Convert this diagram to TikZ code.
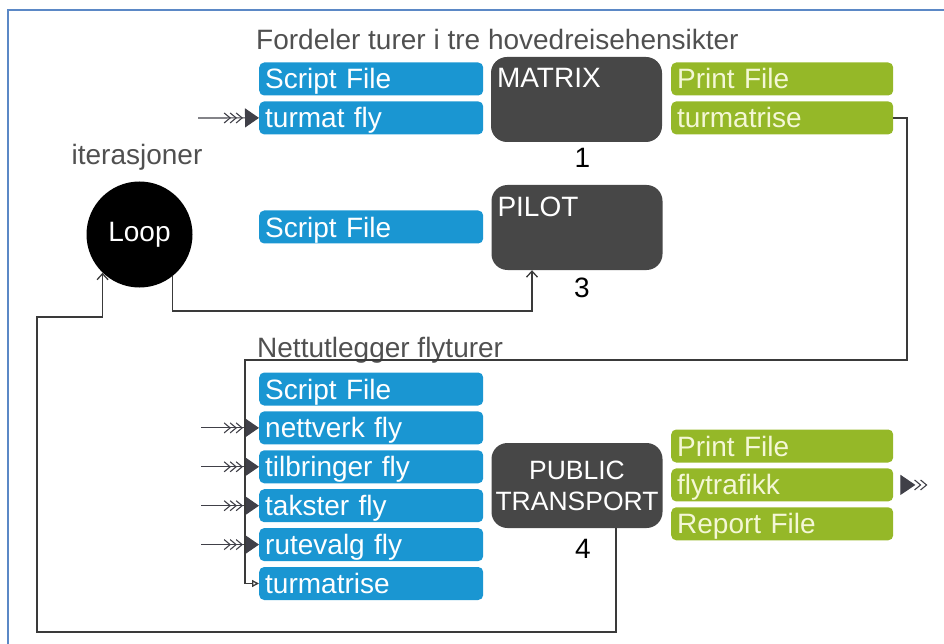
\documentclass[tikz,border=0pt]{standalone}
\usepackage{fontspec}
\setmainfont{Liberation Sans}
\usetikzlibrary{
    arrows.meta,
    decorations.markings,
    positioning
}
\definecolor{fileblue}{HTML}{1A96D2}
\definecolor{filegreen}{HTML}{95B828}
\definecolor{greentext}{HTML}{F4F7D6}
\definecolor{procgray}{HTML}{474747}
\definecolor{portgray}{HTML}{404048}
\definecolor{linegray}{HTML}{3A3A3A}
\definecolor{framecol}{HTML}{5B88C6}
\definecolor{capgray}{HTML}{505050}

\tikzset{
    bigfont/.style={font=\fontsize{28}{31}\selectfont},
    infile/.style={bigfont, fill=fileblue, text=white, rounded corners=5pt,
        text width=212pt, align=left, inner xsep=6pt, inner ysep=0pt,
        text height=20pt, text depth=0pt, minimum height=33pt},
    outfile/.style={infile, fill=filegreen, text=greentext, text width=210pt},
    proc/.style={fill=procgray, rounded corners=16pt, minimum width=171pt,
        minimum height=85pt, inner sep=0pt},
    proctext/.style={bigfont, text=white, inner sep=0pt, anchor=north west},
    caption/.style={bigfont, text=capgray, inner sep=0pt, anchor=base west},
    stepno/.style={bigfont, text=black, inner sep=0pt},
    conn/.style={draw=linegray, line width=1.3pt},
    openin/.style={conn, -{Straight Barb[length=6pt,width=11pt]}},
    inport/.style={draw=portgray, line width=1.1pt,
        -{Triangle[length=14pt,width=19pt]},
        postaction=decorate,
        decoration={markings,
            mark=at position -16pt with {\arrow{Straight Barb[length=6pt,width=10pt]}},
            mark=at position -22pt with {\arrow{Straight Barb[length=6pt,width=10pt]}},
            mark=at position -28pt with {\arrow{Straight Barb[length=6pt,width=10pt]}}}},
    outport/.style={color=portgray, line width=1.1pt,
        postaction=decorate,
        decoration={markings,
            mark=at position 15pt with {\arrow{Triangle[length=15pt,width=20pt]}},
            mark=at position 21pt with {\arrow{Straight Barb[length=6pt,width=10pt]}},
            mark=at position 27pt with {\arrow{Straight Barb[length=6pt,width=10pt]}},
            mark=at position 32pt with {\arrow{Straight Barb[length=6pt,width=10pt]}}}}
}

\begin{document}
\begin{tikzpicture}[x=1pt, y=-1pt]
    \useasboundingbox (0,0) rectangle (944,644);
    \draw[framecol, line width=2pt] (7.5,660) |- (960,10);

    % step 1: matrix
    \node[caption] (cap1) at (256,50) {Fordeler turer i tre hovedreisehensikter};
    \node[infile, anchor=west] (sf1) at (259,79) {Script File};
    \node[infile, below=5.5pt of sf1] (tf) {turmat fly};
    \node[proc] (matrix) at (576.5,99.5) {};
    \node[proctext] (matrixtxt) at ([shift={(6,11)}]matrix.north west) {MATRIX};
    \node[stepno] (n1) at ([shift={(6,16)}]matrix.south) {1};
    \node[outfile, anchor=west] (pf1) at (671,79) {Print File};
    \node[outfile, below=5.5pt of pf1] (gtm) {turmatrise};

    % step 2: loop
    \node[bigfont, text=capgray, anchor=base] (iter) at (137,165) {iterasjoner};
    \node[circle, fill=black, minimum size=106pt, bigfont, text=white] (loop) at (139.5,234.5) {Loop};
    \node[stepno] (n2) at ([yshift=19.5pt]loop.south) {2};

    % step 3: pilot
    \node[infile, anchor=west] (sf2) at (259,227) {Script File};
    \node[proc] (pilot) at (577,227.5) {};
    \node[proctext] (pilottxt) at ([shift={(6,12)}]pilot.north west) {PILOT};
    \node[stepno] (n3) at ([shift={(5,18)}]pilot.south) {3};

    % step 4: public transport
    \node[caption] (cap2) at (257,357) {Nettutlegger flyturer};
    \node[infile, anchor=west] (sf3) at (259,389) {Script File};
    \node[infile, below=5.5pt of sf3] (nv) {nettverk fly};
    \node[infile, below=5.5pt of nv] (tb) {tilbringer fly};
    \node[infile, below=5.5pt of tb] (tk) {takster fly};
    \node[infile, below=5.5pt of tk] (rv) {rutevalg fly};
    \node[infile, below=5.5pt of rv] (btm) {turmatrise};
    \node[proc, font=\fontsize{26.5}{31}\selectfont, text=white, align=center] (pt) at (577,485.5) {PUBLIC\\TRANSPORT};
    \node[stepno] (n4) at ([shift={(6,21)}]pt.south) {4};
    \node[outfile, anchor=west] (pf2) at (671,446) {Print File};
    \node[outfile, below=5.5pt of pf2] (fly) {flytrafikk};
    \node[outfile, below=5.5pt of fly] (rep) {Report File};

    % connectors
    \coordinate (tfin) at (198,118);
    \draw[inport] (tfin) -- (tf.west);
    \foreach \n in {nv,tb,tk,rv}
        \draw[inport] ([xshift=-58pt]\n.west) -- (\n.west);

    \coordinate (c1) at (907,360);
    \coordinate (c2) at (245,360);
    \draw[conn, -{Triangle[open,length=7pt,width=7pt]}] (gtm.east) -| (c1) -- (c2) |- (btm.west);

    \coordinate (lp) at (532,311);
    \draw[openin] (loop.-52) |- (lp) -- (lp |- pilot.south);

    \coordinate (r1) at (616,632);
    \coordinate (r2) at (37,317);
    \draw[openin] (r1 |- pt.south) -- (r1) -| (r2) -| (loop.-134);

    \coordinate (flyport) at ([xshift=7pt]fly.east);
    \coordinate (flyout) at (932,485);
    \path[outport] (flyport) -- (flyout);
\end{tikzpicture}
\end{document}
